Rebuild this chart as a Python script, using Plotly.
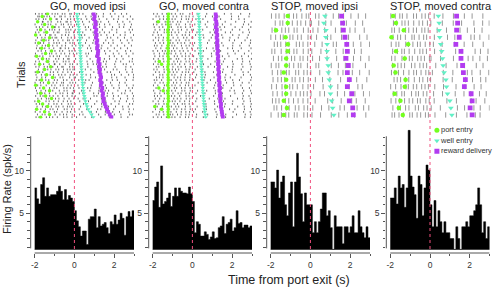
import plotly.graph_objects as go

W, H = 495, 288
FONT = "Liberation Sans, Arial, sans-serif"

PANEL_TITLES = ["GO, moved ipsi", "GO, moved contra", "STOP, moved ipsi", "STOP, moved contra"]
X_TICKS = [-2, 0, 2]
X_MINOR = [-1, 1, 3]
Y_TICKS = [5, 10]
Y_MINOR = [1, 2, 3, 4, 6, 7, 8, 9, 11, 12, 13, 14]
BIN_START = -2.0
BIN_WIDTH = 0.1
LEGEND_LABELS = ["port entry", "well entry", "reward delivery"]

# ---- PSTH firing rates (spk/s), 0.1 s bins from -2 to 3 s ----
RATE_GO_IPSI = [8.0, 6.7, 6.1, 8.4, 9.2, 7.0, 8.0, 7.0, 7.2, 7.2, 7.2, 7.6, 8.2, 7.6, 6.6, 7.8, 6.6, 7.1, 6.8, 6.4,
                5.3, 4.1, 3.4, 2.3, 2.9, 2.9, 1.3, 4.3, 4.6, 4.6, 5.5, 3.3, 4.6, 3.5, 3.7, 3.9, 3.3, 2.6, 4.0, 3.7,
                4.8, 3.7, 4.2, 5.0, 4.4, 2.4, 4.6, 5.2, 4.6, 5.3]
RATE_GO_CONTRA = [6.5, 8.1, 8.7, 5.7, 10.6, 6.1, 6.4, 6.8, 7.4, 5.8, 7.0, 8.0, 7.0, 8.0, 7.6, 7.4, 7.4, 7.3, 8.1, 7.3,
                  6.4, 2.7, 4.0, 3.7, 2.3, 2.3, 2.8, 2.5, 1.9, 2.2, 2.8, 2.0, 2.1, 3.3, 3.5, 4.6, 2.6, 3.7, 3.9, 4.3,
                  2.9, 3.3, 5.3, 3.8, 3.9, 3.3, 3.6, 3.6, 3.3, 3.5]
RATE_STOP_IPSI = [8.7, 8.7, 8.0, 10.1, 6.8, 8.7, 9.4, 6.0, 4.7, 7.4, 8.7, 3.4, 8.7, 12.1, 9.3, 7.3, 4.0, 7.4, 6.0, 6.0,
                  6.0, 2.7, 4.0, 2.7, 4.0, 5.5, 7.4, 7.4, 4.7, 5.3, 3.3, 0.0, 4.7, 3.4, 3.4, 3.4, 1.4, 3.4, 3.4, 2.7,
                  3.4, 4.7, 2.7, 2.7, 5.3, 3.4, 2.7, 2.1, 3.4, 2.1]
RATE_STOP_CONTRA = [6.8, 6.8, 8.0, 6.1, 9.4, 8.0, 8.4, 5.7, 8.0, 14.8, 9.4, 8.1, 7.2, 4.4, 9.4, 8.4, 4.7, 8.0, 10.7, 10.1,
                    6.0, 3.4, 6.5, 3.4, 5.3, 4.0, 2.7, 4.0, 2.7, 2.7, 2.0, 2.0, 0.0, 3.4, 2.0, 0.0, 3.4, 3.4, 4.0, 3.4,
                    4.7, 4.7, 5.3, 6.0, 8.0, 6.0, 2.7, 4.0, 2.0, 3.4]

# ---- spike rasters: one string per trial, one char per 0.1 s bin from -2 s;
#      a digit d marks a spike at bin start + d*0.01 s ----
SPIKES_GO_IPSI = [
    "4.27.51.8.36.9.2.74." "..5.3...8..2..6...1.4..7..3...",
    ".63.8.25..1.74.3.9.6" ".2...7..4...1.5...8...3.6...2.",
    "7.1.46..2.83.5..6.19" "...4..2.7...5...3..8..1...6..4",
    ".5.92.7.3..6.1.84.2." "6...1..5...8.3...2...7..4..9..",
    "2..6.38.1.7..45.9.3." ".1..7....3..6..2.8....5..1..7.",
    "8.4.1.6..93.2.7..5.1" "..3..5.1....7..4...2..6.8...3.",
    ".36..2.58.1.4..79.2." "4....8..2..5..1...9..3.....6.2",
    "5.1.7.3..6.42..8.3.6" ".7..2....4..8..1.6...3...5..2.",
    "1.8..4.62.3..7.5.1.9" "...6.2...8...4..3..7...1.5...8",
    ".4.6.2..8.31.5..7.4." "2..9...4..1.....6.3..8...2..5.",
    "6..3.7.1.5.8..2.64.3" ".5....1..7.3...8...4...2..6..1",
    "3.9.5..2.7.14..6.8.2" "..1..6...3....7..2.5...9...4..",
    ".2.8.46..1.3.7.5..9." "7...2..5...1.8....4..6...3..7.",
    "9.5..1.3.6..82.4.1.7" "..4...6.2....5..8...1..3..7...",
    ".7.3.5.9..2.6.1..48." "3..1....6..4...2.9...5...8..3.",
    "4..7.2.56.8..3.1.6.5" ".2...8.1....3..7...6..4...1..5",
    "2.6.1..7.4.35..8.2.9" "...5..3...7.2....6..1..8...4..",
    ".8.4.9.2..6.1.5.73.." "6..2...9....4..1.7...3..5....2",
    "5.3..8.1.6.2..47.3.8" "..9...4..2....6.1...8..3...7.1",
    "1.7.5..3.92.6..4.8.1" ".4....7..5.2...8....3...6.1..9",
    "6.2.8.4..1.5.73..6.2" "...2..8....6..3.1...5....9..4.",
    ".9..3.6.2.7.1.5.48.3" "1....5..3..7...2...6.4...8...2",
    "3.5.1..9.4.6..2.7.5." "..6.1....8...3..5.2...7...4..1",
    "7..4.2.8.5..16.3.9.4" ".3...9..1...5.....7.2..6...3.8",
    ".1.6.5..7.3.8.2..6.9" "5..4....2.6...1...8..3...5...7",
    "8.3..6.1.9.4..5.2.7." "..2..7.4....9...3..1.6....2..5",
    "2.9.4.7..3.1.65..8.2" "6....3...1..8.4...2...7..5....",
    ".5.1.8..6.2.9.3.7.4." ".8..1...5....2.6..9...4...3..6",
    "4.6.3..5.8.1..7.29.6" "..3...7.2...5...1..8..6....4.2",
    "9..2.5.7.1..4.8.3..5" "1..6...8....3..5.2...9...7..1.",
    ".3.7.1.4..6.8.2.5.93" "..5.2....7..1...6..3...8.4...2",
    "5.8.2..6.3.7..1.4.8." "4....2...9.3....5..7..1...6..8",
    ".6.4.9.1..5.2.8..3.7" ".9..4...1....6.3...5...2..8..4",
    "1.2..7.3.6.9..4.5.2." "..7..5.1...3...8....4.6...2..9",
    "8.5.3..1.7.2.6..9.4." "3...6.....2..7.1..5...4....8.3",
    ".2.9.6..4.8.1.3.57.2" "...1..5.6....8...2..7...3..1..",
    "6..1.4.8.2.5..9.3.6." "..4...2....7.3...1.8....5..6.9",
    "3.7.5..2.9.1.8..4.1." "2..8....5..1...6...3..7....4..",
    ".4.8.2.6..3.7.5.1.9." "..6.3...9...2..5....1..4...8.2",
    "7.2..9.5.1.4..6.3.8." ".1...4..7....3...6.2...5..9...",
]
SPIKES_GO_CONTRA = [
    "5.3.8..1.6.4.9.2..7." "..4....2...6....1..5....3...8.",
    ".7.2.5.9..3.1.6.8.4." "3.....6...1..4.....7...2....5.",
    "2..6.4.1.8.3..5.9.1." ".8...3.....5..2....6...4..1...",
    ".9.5..3.7.2.6.1..8.4" "....1..7....3...5....8....2..6",
    "4.1.7.6..2.9.3..5.8." ".2....5...8....1...4.....7..3.",
    "8..3.1.5.4..7.2.6.9." "...6...3.....9..2....5...1...4",
    ".2.6.9..4.1.8.5..3.7" "5....2....7...4.....1..8....3.",
    "6.4..8.2.5.3.1..7.6." "..3.....9..1....6..2.....4..7.",
    "1.8.3..7.6..2.9.4.5." ".6...4....2...8.....3..5....1.",
    ".5.1.4.9..3.7..6.2.8" "2....7...5.....3..9....1...6..",
    "3.9..2.6.1.8.4..7.3." "...8....4...1.....6..2....5..3",
    ".4.7.5..8.2.6.3.1.9." ".1.....6...3..8.....4...7....2",
    "9.2.6..3.7.1..5.8.4." "4...2......7...5....3..9....6.",
    ".6..1.8.4.5.2.9..3.7" "..7....1..4......8..2...6....5",
    "2.5.9.3..6.1.7.4.8.." ".3...5....9...2.....7..1....4.",
    "7..4.8.1.3.6..2.5.9." "...1.....6..3....8...5....2..9",
    ".1.5.2.7..9.4.8.6.3." "6....3...7.....1..4.....8...2.",
    "5.8..3.6.2.9.1..4.7." "..2....8....5...3.....6..1...7",
    ".3.9.6..1.7.5.2.8.4." ".9...1.....4...6....2....3..8.",
    "4.7.2..5.8.3.6..1.9." "3....6...2....8.....5...9....1",
    ".8.1.4.6..2.7.3.5.8." "..5....9...1.....7..3....4...6",
    "6.2..7.3.9.5.1..8.4." ".4...2......8..5....1...6....3",
    ".5.3.8..6.4.2.9.7.1." "7.....3...6....2...9.....5..1.",
    "3..6.1.9.7.2..4.5.8." "..1...5.....3...8....4...7...2",
    ".9.4.2.5..8.6.1.3.7." ".6....2...9.....4..1....5....8",
    "8.1.5..4.3.7.9..2.6." "5....8...1......6...3..7.....4",
    ".2.7.3.8..5.1.4.9.2." "..9....4...7.....2..6....1..5.",
    "4.6..9.2.7.3.8..5.1." ".3...7.....2...5....8...4....9",
    ".7.2.6..4.9.1.5.3.8." "1....5....8....3...6.....2..7.",
    "5..8.3.1.6.4..7.2.9." "..6....2...5......9..1...8...3",
    ".1.6.9.4..2.8.3.7.5." ".8....3....6...1.....4...2...7",
    "9.4.2..7.5.1.6..8.3." "4...1.....7...9....2.....6..5.",
    ".3.5.8..1.6.4.2.9.7." "..2.....5...8...4.....7..3...1",
    "2.8..4.6.9.3.7..1.5." ".7....4....1...6....3....9...2",
    ".6.1.7.3..8.5.9.2.4." "3.....8....2....5...1....4...6",
    "7.3.9..2.4.6.1..5.8." "..4...9.....6...2.....8...1..3",
    ".4.8.1.5..7.2.6.3.9." ".5.....1...3......7..4....2..8",
    "1..5.3.8.2.9..4.7.6." "6....2.....9...3....5....8...1",
    ".8.2.6..9.1.5.3.7.4." "..1....7....4...8.....2...6..5",
    "3.6.4.9..7.2.8..5.1." ".9...5......1...7...3.....4..2",
]
SPIKES_STOP_IPSI = [
    "4.6.2.8..3.5.1.7.9.2" "..6.3..8...5..2.7...4...1..8..",
    "..3.7.1.5.9..4.2.6.8" "5...2..7..4.....8.1...6...3...",
    "7.2..6.4.1.8.3..5.9." ".3.8...2....6..4...9..5....1..",
    "1.5.9.3..7.2.6.4..8." "4..1....6.3....7...2....8...5.",
    ".8.4.1.6.2..9.5.3.7." "..2..9.....5.1....3..6...4...8",
    "6.1..3.8.5.7.2..4.9." "7....3..1...8...5.....2..6....",
    ".4.9.6..2.5.1.8.3.6." ".1..6...4....2..9....7...3...5",
    "3.7.1..8.4.6.9.2..5." "..8.2.....5...1..6...4.....7..",
    "8..5.2.9.3..6.1.7.4." "2...7....3...9..4....1..8....6",
    ".2.6.4.1..8.3.7.5.9." "..5...1..8.....2...7...3....4.",
    "5.9..7.3.6.1.4..2.8." ".6....4...2..8.....5...9..1...",
    ".1.3.8.5..2.7.9.6.4." "3...8..1.....6...2....4...7..9",
    "9.6.2..4.1.5.8..3.7." "..4.....7..2...5....8..1...6..",
    ".7.1.5.9.3..4.2.8.6." ".2...6...3....9..1.....5..8..4",
    "2..8.4.6.1.9.3..7.5." "8....1....5...3...6...2....9..",
]
SPIKES_STOP_CONTRA = [
    "3.5.8.1.4..7.2.9.6.3" "..1...5....8.....3...2....6...",
    ".6.2.9.4.1.8..5.3.7." "4.....2....7...9......1...5..8",
    "8.1.5..7.3.6.2.9.4.1" "...6....3......1..8...4...2...",
    ".4.7.2.6..9.1.5.8.3." "..2.....8...5.......6.3..1...7",
    "5.9.3..8.2.4.7.1.6.9" ".7....1.....4....2...5....8...",
    ".2.6.8.1.5..3.9.4.2." "..3..6......9...1.....7..4...2",
    "7.4..9.3.6.1.8.5.2.7" "5....3.....8.......2.6...1..9.",
    ".1.8.5.2..7.4.9.6.3." "..9.....1....6...4.....3..7...",
    "6.3.1.7..4.8.2.5.9.4" ".2....7....5......8..1...3...6",
    ".9.5.2.6.3..1.7.4.8." "3.....6....2.....9...4...5..1.",
    "2.7..4.9.1.6.3.8.5.2" "..4...8......1...6....2..7....",
    ".5.3.8.1..7.9.2.6.4." ".8....3.....7....1..5...9...3.",
    "4.8.6..2.5.3.7.1.9.6" "..1.....5....3......7..2...6..",
    ".3.9.1.7.4..6.2.8.5." "6....2.......8...4....1..3...9",
    "9.2.4.6..8.1.5.3.7.2" "..5....9.....3....6...8..2....",
]

# ---- behavioural events per trial (s from port exit) ----
PORT_GO_IPSI = [-1.35, -1.62, -1.2, -1.85, -1.5, -1.1, -1.7, -1.4, -1.95, -1.25, -1.55, -1.8, -1.3, -1.65,
                -1.15, -1.45, -1.9, -1.6, -1.35, -1.75, -1.2, -1.5, -1.85, -1.4, -1.1, -1.65, -1.3, -1.95,
                -1.55, -1.25, -1.7, -1.45, -1.15, -1.8, -1.6, -1.35, -1.9, -1.5, -1.25, -1.7]
WELL_GO_IPSI = [0.13, 0.15, 0.17, 0.19, 0.2, 0.22, 0.23, 0.25, 0.26, 0.27, 0.27, 0.28, 0.29, 0.29, 0.3, 0.3,
                0.31, 0.32, 0.33, 0.34, 0.35, 0.36, 0.37, 0.38, 0.39, 0.4, 0.41, 0.42, 0.44, 0.46, 0.48, 0.5,
                0.53, 0.56, 0.6, 0.64, 0.7, 0.78, 0.86, 0.95]
REWARD_GO_IPSI = [0.97, 1.02, 0.99, 1.05, 1.08, 1.03, 1.1, 1.07, 1.12, 1.09, 1.15, 1.12, 1.17, 1.14, 1.2, 1.18,
                  1.16, 1.23, 1.21, 1.27, 1.24, 1.29, 1.26, 1.31, 1.34, 1.3, 1.36, 1.33, 1.4, 1.37, 1.44, 1.42,
                  1.48, 1.46, 1.53, 1.58, 1.64, 1.7, 1.78, 1.86]

PORT_GO_CONTRA = [-1.2, -1.22, -1.21, -1.23, -1.22, -1.2, -1.24, -1.22, -1.21, -1.23, -1.22, -1.2, -1.22, -1.24,
                  -1.21, -1.22, -1.23, -1.2, -1.22, -1.21, -1.24, -1.22, -1.2, -1.23, -1.22, -1.21, -1.22, -1.24,
                  -1.2, -1.22, -1.23, -1.21, -1.22, -1.2, -1.24, -1.22, -1.21, -1.23, -1.22, -1.2]
EXTRA_PORT_GO_CONTRA_TRIAL = [4, 19, 20, 29, 30, 36, 37]
EXTRA_PORT_GO_CONTRA_TIME = [-1.72, -1.67, -1.55, -1.69, -1.47, -1.89, -1.55]
WELL_GO_CONTRA = [0.31, 0.32, 0.33, 0.33, 0.34, 0.35, 0.35, 0.36, 0.37, 0.37, 0.38, 0.39, 0.39, 0.4, 0.41, 0.41,
                  0.42, 0.43, 0.44, 0.44, 0.45, 0.46, 0.47, 0.48, 0.48, 0.49, 0.5, 0.51, 0.52, 0.53, 0.54, 0.55,
                  0.56, 0.57, 0.58, 0.6, 0.61, 0.63, 0.65, 0.67]
REWARD_GO_CONTRA = [1.17, 1.19, 1.16, 1.2, 1.22, 1.18, 1.23, 1.21, 1.25, 1.22, 1.26, 1.24, 1.27, 1.25, 1.29, 1.26,
                    1.3, 1.28, 1.31, 1.29, 1.33, 1.3, 1.34, 1.32, 1.35, 1.33, 1.37, 1.35, 1.39, 1.36, 1.4, 1.38,
                    1.42, 1.4, 1.44, 1.43, 1.46, 1.48, 1.5, 1.53]

PORT_STOP_IPSI = [-1.14, -1.14, -1.73, -1.25, -1.14, -1.14, -1.22, -1.22, -1.34, -1.22, -1.22, -1.22, -1.34, -1.18, -1.34]
WELL_STOP_IPSI = [0.73, 0.68, 0.78, 0.78, 0.84, 0.84, 0.84, 0.9, 0.9, 0.95, 1.01, 1.01, 1.07, 1.12, 1.18]
REWARD_STOP_IPSI = [1.57, 1.62, 1.66, 1.74, 1.83, 1.86, 1.79, 1.91, 1.86, 1.96, 1.86, 2.08, 1.96, 2.13, 2.16]

PORT_STOP_CONTRA = [-1.86, -1.71, -1.32, -1.94, -1.10, -1.71, -1.27, -1.83, -1.74, -1.23, -1.27, -1.78, -1.49, -1.57, -1.37]
WELL_STOP_CONTRA = [0.42, 0.46, 0.46, 0.49, 0.54, 0.59, 0.63, 0.66, 0.71, 0.8, 0.83, 0.88, 1.0, 1.05, 1.1]
REWARD_STOP_CONTRA = [1.34, 1.39, 1.34, 1.47, 1.30, 1.56, 1.56, 1.64, 1.68, 1.78, 1.73, 2.07, 2.12, 2.02, 2.12]

# ---------------- styling / layout ----------------
GREEN = "#74ff1f"
CYAN = "#62f0c6"
PURPLE = "#b23cf0"
RED = "#f0507f"
AXIS_C = "#555555"
TEXT_C = "#333333"

COL_PX = [(30.7, 134.0), (148.7, 252.0), (266.7, 370.0), (386.3, 489.6)]
RASTER_PX = (12.5, 118.5)
HIST_PX = (129.1, 253.0)
XRANGE = [-2.2, 3.0]
YRANGE = [0.3, 14.95]
BAR_BASE = 0.72
TITLE_X_PX = [87.5, 204, 314, 441]

panels = [
    dict(spikes=SPIKES_GO_IPSI, port=PORT_GO_IPSI, well=WELL_GO_IPSI, reward=REWARD_GO_IPSI, rate=RATE_GO_IPSI, go=True),
    dict(spikes=SPIKES_GO_CONTRA, port=PORT_GO_CONTRA, well=WELL_GO_CONTRA, reward=REWARD_GO_CONTRA, rate=RATE_GO_CONTRA, go=True,
         extra=(EXTRA_PORT_GO_CONTRA_TIME, EXTRA_PORT_GO_CONTRA_TRIAL)),
    dict(spikes=SPIKES_STOP_IPSI, port=PORT_STOP_IPSI, well=WELL_STOP_IPSI, reward=REWARD_STOP_IPSI, rate=RATE_STOP_IPSI, go=False),
    dict(spikes=SPIKES_STOP_CONTRA, port=PORT_STOP_CONTRA, well=WELL_STOP_CONTRA, reward=REWARD_STOP_CONTRA, rate=RATE_STOP_CONTRA, go=False),
]


def dom_x(a, b):
    return [a / W, b / W]


def dom_y(top, bottom):
    return [1 - bottom / H, 1 - top / H]


def ax_name(kind, n):
    return f"{kind}axis" if n == 1 else f"{kind}axis{n}"


fig = go.Figure()
layout = {}
shapes = []
annotations = []

for i, p in enumerate(panels):
    nr, nh = i + 1, i + 5
    xr, yr, xh, yh = f"x{nr}", f"y{nr}", f"x{nh}", f"y{nh}"
    ntr = len(p["spikes"])
    half = 0.34 if p["go"] else 0.38
    xs, ys = [], []
    for tr, s in enumerate(p["spikes"], start=1):
        for j, c in enumerate(s):
            if c.isdigit():
                t = BIN_START + j * BIN_WIDTH + int(c) * 0.01
                xs += [t, t, None]
                ys += [tr - half, tr + half, None]
    fig.add_trace(go.Scatter(
        x=xs, y=ys, mode="lines", xaxis=xr, yaxis=yr, hoverinfo="skip", showlegend=False,
        line=dict(color="rgba(35,35,35,0.75)" if p["go"] else "rgba(50,50,50,0.5)",
                  width=0.9 if p["go"] else 1.0)))
    trials = list(range(1, ntr + 1))
    msz = 3.5 if p["go"] else 4.5
    fig.add_trace(go.Scatter(x=p["port"], y=trials, mode="markers", xaxis=xr, yaxis=yr, showlegend=False,
                             marker=dict(symbol="circle", size=msz, color=GREEN, line=dict(width=0))))
    if "extra" in p:
        ex_t, ex_tr = p["extra"]
        fig.add_trace(go.Scatter(x=ex_t, y=ex_tr, mode="markers", xaxis=xr, yaxis=yr, showlegend=False,
                                 marker=dict(symbol="circle", size=msz, color=GREEN, line=dict(width=0))))
    fig.add_trace(go.Scatter(x=p["well"], y=trials, mode="markers", xaxis=xr, yaxis=yr, showlegend=False,
                             marker=dict(symbol="triangle-down", size=msz + 0.5, color=CYAN, line=dict(width=0))))
    fig.add_trace(go.Scatter(x=p["reward"], y=trials, mode="markers", xaxis=xr, yaxis=yr, showlegend=False,
                             marker=dict(symbol="square", size=msz + 0.3, color=PURPLE, line=dict(width=0))))

    # PSTH as a filled step outline (no seams between bins)
    px, py = [], []
    for k, v in enumerate(p["rate"]):
        top = max(v, BAR_BASE)
        x0 = BIN_START + k * BIN_WIDTH
        px += [x0, x0 + BIN_WIDTH]
        py += [top, top]
    px += [px[-1], px[0]]
    py += [BAR_BASE, BAR_BASE]
    fig.add_trace(go.Scatter(x=px, y=py, mode="lines", fill="toself", fillcolor="black",
                             line=dict(color="black", width=0.5), xaxis=xh, yaxis=yh,
                             showlegend=False, hoverinfo="skip"))

    a, b = COL_PX[i]
    layout[ax_name("x", nr)] = dict(domain=dom_x(a, b), range=XRANGE, visible=False, anchor=yr)
    layout[ax_name("y", nr)] = dict(domain=dom_y(*RASTER_PX), range=[ntr + 0.5, 0.5], visible=False, anchor=xr)
    layout[ax_name("x", nh)] = dict(
        domain=dom_x(a, b), range=XRANGE, anchor=yh, showgrid=False, zeroline=False, showline=False,
        tickmode="array", tickvals=X_TICKS, ticktext=[str(v) for v in X_TICKS],
        ticks="outside", ticklen=4, tickwidth=1, tickcolor=AXIS_C,
        tickfont=dict(size=8.5, color=TEXT_C, family=FONT),
        minor=dict(tickmode="array", tickvals=X_MINOR, ticks="outside", ticklen=2, tickcolor=AXIS_C, showgrid=False))
    layout[ax_name("y", nh)] = dict(
        domain=dom_y(*HIST_PX), range=YRANGE, anchor=xh, showgrid=False, zeroline=False, showline=False,
        tickmode="array", tickvals=Y_TICKS, ticktext=[str(v) for v in Y_TICKS],
        ticks="outside", ticklen=4, tickwidth=1, tickcolor=AXIS_C,
        tickfont=dict(size=8.5, color=TEXT_C, family=FONT),
        minor=dict(tickmode="array", tickvals=Y_MINOR, ticks="outside", ticklen=2.5, tickcolor=AXIS_C, showgrid=False))

    # offset axis spines
    shapes.append(dict(type="line", xref=xh, yref=f"{yh} domain", x0=-2, x1=3, y0=0, y1=0,
                       line=dict(color=AXIS_C, width=1)))
    shapes.append(dict(type="line", xref=f"{xh} domain", yref=yh, x0=0, x1=0, y0=0.85, y1=14.1,
                       line=dict(color=AXIS_C, width=1)))
    # event line at port exit
    shapes.append(dict(type="line", xref=xh, yref="paper", x0=0, x1=0, y0=1 - 249 / H, y1=1 - 12 / H,
                       line=dict(color=RED, width=1, dash="dot"), layer="above"))

    annotations.append(dict(text=PANEL_TITLES[i], x=TITLE_X_PX[i] / W, y=1 - 6 / H, xref="paper", yref="paper",
                            showarrow=False, xanchor="center", yanchor="middle",
                            font=dict(size=11, color="#222222", family=FONT)))

# legend drawn as a small marker+text trace
fig.add_trace(go.Scatter(
    x=[0] * len(LEGEND_LABELS), y=list(range(len(LEGEND_LABELS))), xaxis="x9", yaxis="y9",
    mode="markers+text", text=LEGEND_LABELS, textposition="middle right", showlegend=False, hoverinfo="skip",
    textfont=dict(size=7.5, color=TEXT_C, family=FONT),
    marker=dict(symbol=["circle", "triangle-down", "square"], size=5, color=[GREEN, CYAN, PURPLE], line=dict(width=0))))
layout["xaxis9"] = dict(domain=dom_x(434, 495), range=[-0.05, 1], visible=False, anchor="y9")
layout["yaxis9"] = dict(domain=dom_y(125, 156.6), range=[2.5, -0.5], visible=False, anchor="x9")

annotations += [
    dict(text="Trials", x=21 / W, y=1 - 75 / H, xref="paper", yref="paper", showarrow=False, textangle=-90,
         xanchor="center", yanchor="middle", font=dict(size=11, color="#222222", family=FONT)),
    dict(text="Firing Rate (spk/s)", x=7 / W, y=1 - 189 / H, xref="paper", yref="paper", showarrow=False,
         textangle=-90, xanchor="center", yanchor="middle", font=dict(size=11, color="#222222", family=FONT)),
    dict(text="Time from port exit (s)", x=289 / W, y=1 - 280 / H, xref="paper", yref="paper", showarrow=False,
         xanchor="center", yanchor="middle", font=dict(size=12.5, color="#222222", family=FONT)),
]

fig.update_layout(
    width=W, height=H, margin=dict(l=0, r=0, t=0, b=0),
    paper_bgcolor="white", plot_bgcolor="white", hovermode=False,
    font=dict(family=FONT, color=TEXT_C), shapes=shapes, annotations=annotations, **layout)

fig.write_html("out.html", config={"displayModeBar": False, "staticPlot": True},
               post_script="document.body.style.margin='0';document.body.style.padding='0';"
                           "document.documentElement.style.overflow='hidden';")
